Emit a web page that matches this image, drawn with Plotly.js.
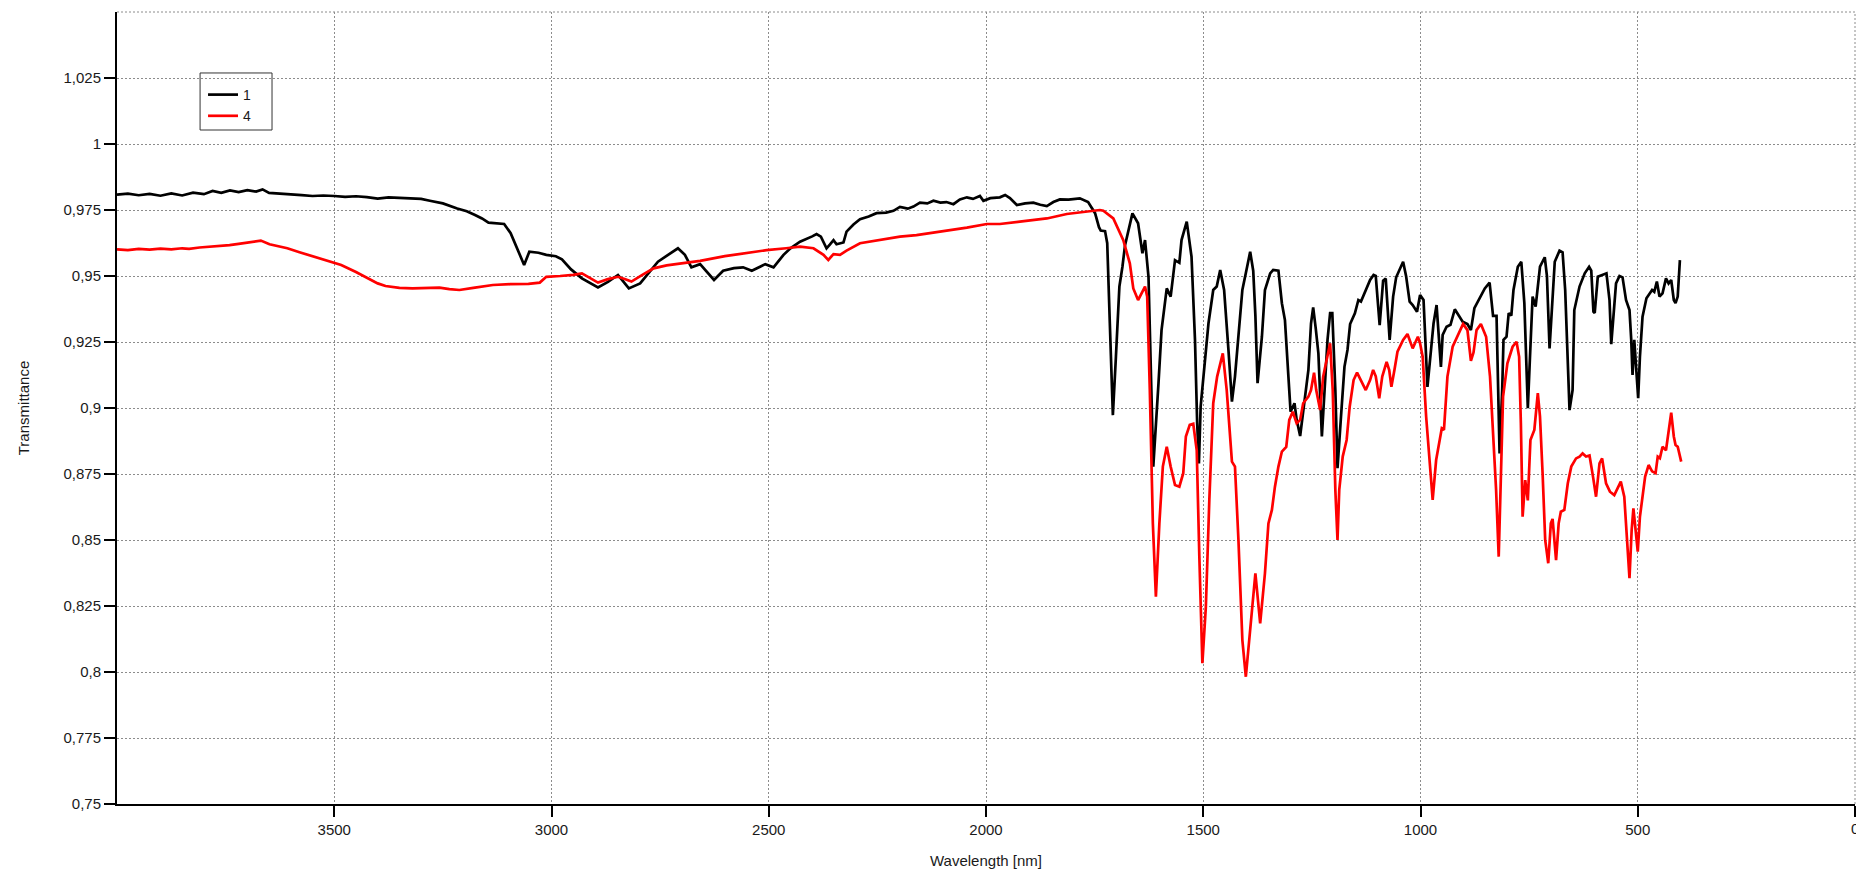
<!DOCTYPE html>
<html>
<head>
<meta charset="utf-8">
<script src="https://cdn.plot.ly/plotly-3.0.1.min.js"></script>
<style>html,body{margin:0;padding:0;background:#fff;}#chart{width:1856px;height:869px;}</style>
</head>
<body>
<div id="chart"></div>
<script>
// Series "1" (black): wavelength [nm] and transmittance
const wl1 = [4000,3975,3950,3925,3900,3875,3850,3825,3800,3780,3760,3740,3720,3700,3680,3665,3650,3630,3600,3575,3550,3525,3500,3475,3450,3425,3400,3375,3350,3320,3300,3280,3250,3217,3195,3176,3160,3145,3125,3109,3094,3078,3063,3051,3030,3012,2990,2976,2955,2930,2910,2893,2870,2847,2835,2822,2796,2775,2755,2730,2709,2693,2678,2658,2640,2626,2605,2580,2559,2539,2520,2508,2489,2466,2450,2428,2400,2390,2380,2367,2359,2351,2344,2328,2321,2305,2290,2270,2252,2230,2213,2198,2180,2167,2152,2135,2121,2105,2091,2075,2060,2044,2030,2014,2006,1990,1968,1956,1945,1929,1910,1891,1875,1860,1845,1830,1810,1784,1765,1749,1740,1736,1726,1721,1715,1708,1701,1693,1686,1680,1663,1650,1640,1634,1626,1615,1603,1596,1584,1575,1565,1555,1550,1538,1527,1519,1514,1510,1506,1496,1488,1477,1469,1461,1452,1442,1434,1427,1419,1410,1399,1392,1385,1380,1375,1365,1358,1346,1339,1327,1319,1312,1304,1299,1290,1285,1277,1265,1258,1252,1247,1241,1235,1227,1222,1214,1208,1203,1196,1191,1183,1175,1168,1162,1151,1143,1137,1128,1116,1108,1103,1094,1086,1080,1071,1063,1056,1040,1033,1025,1018,1008,1001,993,984,970,963,953,949,940,931,921,903,892,884,876,864,852,841,833,825,822,818,812,809,802,797,791,786,776,768,761,757,753,748,742,735,730,725,714,709,703,697,691,680,673,667,661,657,650,646,634,622,612,607,602,599,592,581,572,565,561,556,550,542,535,527,519,515,512,508,504,499,495,489,480,473,467,462,456,450,443,435,429,423,417,413,408,403];
const tr1 = [0.9808,0.9812,0.9806,0.9811,0.9804,0.9813,0.9805,0.9816,0.9810,0.9822,0.9815,0.9824,0.9818,0.9825,0.9820,0.9828,0.9815,0.9812,0.9808,0.9806,0.9803,0.9805,0.9803,0.9800,0.9802,0.9799,0.9793,0.9798,0.9796,0.9795,0.9792,0.9785,0.9775,0.9756,0.9745,0.9731,0.9718,0.9702,0.9698,0.9697,0.9662,0.9598,0.9542,0.9592,0.9588,0.9580,0.9575,0.9563,0.9525,0.9491,0.9472,0.9457,0.9478,0.9504,0.9480,0.9453,0.9472,0.9512,0.9554,0.9582,0.9605,0.9580,0.9533,0.9545,0.9510,0.9485,0.9520,0.9530,0.9533,0.9520,0.9535,0.9545,0.9533,0.9580,0.9605,0.9630,0.9650,0.9659,0.9649,0.9605,0.9620,0.9636,0.9620,0.9627,0.9668,0.9695,0.9715,0.9725,0.9738,0.9740,0.9747,0.9762,0.9755,0.9763,0.9778,0.9775,0.9785,0.9778,0.9780,0.9772,0.9790,0.9798,0.9792,0.9803,0.9785,0.9795,0.9798,0.9807,0.9795,0.9769,0.9775,0.9778,0.9770,0.9765,0.9780,0.9790,0.9789,0.9794,0.9780,0.9738,0.9685,0.9672,0.9670,0.9624,0.9320,0.8973,0.9194,0.9460,0.9535,0.9617,0.9737,0.9700,0.9586,0.9636,0.9497,0.8778,0.9094,0.9295,0.9453,0.9422,0.9560,0.9550,0.9636,0.9706,0.9573,0.9258,0.8942,0.8790,0.9005,0.9194,0.9320,0.9447,0.9460,0.9523,0.9447,0.9220,0.9024,0.9119,0.9283,0.9447,0.9535,0.9592,0.9520,0.9350,0.9094,0.9270,0.9447,0.9510,0.9523,0.9520,0.9397,0.9333,0.9119,0.8986,0.9018,0.8955,0.8894,0.9043,0.9144,0.9320,0.9381,0.9300,0.9207,0.8892,0.9050,0.9258,0.9359,0.9359,0.9068,0.8772,0.8967,0.9156,0.9220,0.9318,0.9359,0.9409,0.9403,0.9440,0.9485,0.9504,0.9500,0.9314,0.9482,0.9490,0.9258,0.9422,0.9495,0.9554,0.9498,0.9403,0.9390,0.9365,0.9428,0.9409,0.9080,0.9320,0.9390,0.9156,0.9277,0.9308,0.9315,0.9374,0.9327,0.9318,0.9295,0.9378,0.9416,0.9453,0.9475,0.9349,0.9349,0.9119,0.8828,0.9068,0.9258,0.9270,0.9359,0.9350,0.9447,0.9535,0.9554,0.9397,0.9194,0.8999,0.9194,0.9422,0.9384,0.9472,0.9535,0.9571,0.9500,0.9226,0.9409,0.9554,0.9596,0.9590,0.9447,0.9119,0.8992,0.9068,0.9371,0.9460,0.9510,0.9535,0.9520,0.9365,0.9360,0.9497,0.9504,0.9510,0.9409,0.9242,0.9346,0.9472,0.9500,0.9495,0.9409,0.9371,0.9258,0.9125,0.9258,0.9169,0.9037,0.9194,0.9346,0.9416,0.9434,0.9447,0.9440,0.9479,0.9422,0.9434,0.9491,0.9472,0.9485,0.9409,0.9397,0.9422,0.9560];

// Series "4" (red)
const wl4 = [4000,3975,3950,3925,3900,3875,3850,3834,3810,3790,3765,3741,3720,3700,3685,3669,3649,3630,3608,3580,3546,3515,3484,3450,3423,3400,3382,3350,3320,3290,3258,3235,3212,3180,3135,3095,3053,3027,3012,2980,2950,2930,2910,2893,2870,2847,2830,2816,2790,2765,2735,2703,2658,2601,2560,2505,2460,2428,2397,2374,2363,2351,2336,2321,2290,2250,2198,2160,2121,2080,2044,1998,1968,1922,1890,1860,1814,1784,1768,1738,1730,1707,1684,1669,1661,1650,1634,1629,1623,1616,1609,1601,1593,1584,1575,1565,1555,1546,1540,1531,1523,1515,1509,1502,1494,1486,1477,1468,1455,1446,1434,1427,1419,1410,1402,1394,1388,1380,1369,1358,1350,1342,1335,1327,1319,1309,1302,1294,1285,1277,1270,1258,1252,1245,1240,1231,1224,1214,1208,1202,1196,1191,1187,1179,1170,1163,1154,1146,1136,1126,1116,1109,1103,1095,1088,1078,1072,1067,1060,1053,1040,1030,1018,1006,1001,995,987,980,972,964,957,951,946,938,926,912,902,892,884,878,871,861,849,840,832,826,820,815,810,800,788,779,773,769,765,759,753,747,738,730,725,719,713,706,700,696,688,682,677,669,661,653,642,634,627,619,611,603,596,588,582,573,564,554,546,539,531,525,519,514,510,505,500,495,489,483,475,467,459,454,449,443,435,429,423,417,413,408,400];
const tr4 = [0.9601,0.9598,0.9603,0.9600,0.9604,0.9601,0.9605,0.9603,0.9608,0.9610,0.9614,0.9617,0.9622,0.9626,0.9630,0.9634,0.9620,0.9613,0.9605,0.9590,0.9573,0.9557,0.9542,0.9515,0.9491,0.9472,0.9462,0.9455,0.9453,0.9455,0.9456,0.9450,0.9447,0.9455,0.9466,0.9469,0.9470,0.9475,0.9497,0.9500,0.9504,0.9510,0.9490,0.9475,0.9488,0.9497,0.9488,0.9479,0.9505,0.9529,0.9540,0.9548,0.9557,0.9575,0.9585,0.9598,0.9605,0.9611,0.9605,0.9580,0.9561,0.9583,0.9580,0.9596,0.9624,0.9635,0.9649,0.9655,0.9664,0.9673,0.9683,0.9697,0.9697,0.9706,0.9712,0.9718,0.9735,0.9740,0.9744,0.9750,0.9747,0.9718,0.9636,0.9548,0.9453,0.9409,0.9460,0.9422,0.9068,0.8563,0.8285,0.8563,0.8778,0.8853,0.8778,0.8708,0.8702,0.8753,0.8892,0.8936,0.8940,0.8840,0.8437,0.8033,0.8247,0.8652,0.9018,0.9119,0.9207,0.9068,0.8797,0.8778,0.8500,0.8121,0.7982,0.8121,0.8250,0.8374,0.8184,0.8374,0.8563,0.8614,0.8702,0.8778,0.8835,0.8853,0.8955,0.8986,0.8942,0.8955,0.9018,0.9043,0.9068,0.9134,0.9068,0.8992,0.9119,0.9194,0.9245,0.9068,0.8690,0.8500,0.8690,0.8816,0.8879,0.9005,0.9106,0.9134,0.9100,0.9068,0.9106,0.9144,0.9120,0.9037,0.9119,0.9175,0.9144,0.9080,0.9144,0.9213,0.9258,0.9280,0.9226,0.9270,0.9245,0.9194,0.8967,0.8816,0.8652,0.8803,0.8866,0.8923,0.8917,0.9119,0.9232,0.9283,0.9318,0.9295,0.9179,0.9210,0.9295,0.9318,0.9270,0.9119,0.8866,0.8690,0.8437,0.8778,0.9043,0.9169,0.9232,0.9251,0.9194,0.8942,0.8588,0.8727,0.8650,0.8879,0.8917,0.9056,0.8967,0.8753,0.8500,0.8412,0.8563,0.8580,0.8424,0.8563,0.8607,0.8614,0.8715,0.8778,0.8809,0.8816,0.8828,0.8816,0.8820,0.8740,0.8664,0.8790,0.8809,0.8715,0.8683,0.8670,0.8696,0.8721,0.8664,0.8500,0.8355,0.8538,0.8620,0.8538,0.8456,0.8588,0.8664,0.8740,0.8784,0.8760,0.8753,0.8816,0.8810,0.8853,0.8840,0.8917,0.8982,0.8892,0.8860,0.8853,0.8797];

// Axis ticks
const xTickVals = [3500,3000,2500,2000,1500,1000,500];
const xTickText = ["3500","3000","2500","2000","1500","1000","500"];
const xEdgeTickVal = 0;      // tick at the right edge, label partly cut off
const xEdgeTickText = "0";
const yTickVals = [0.75,0.775,0.8,0.825,0.85,0.875,0.9,0.925,0.95,0.975,1,1.025];
const yTickText = ["0,75","0,775","0,8","0,825","0,85","0,875","0,9","0,925","0,95","0,975","1","1,025"];
const seriesNames = ["1","4"];

const FONT = "Liberation Sans, Arial, sans-serif";
const TXT = "#1a1a1a";
const gridColor = "#8c8c8c";

const traces = [
  {x: wl1, y: tr1, name: seriesNames[0], type: "scatter", mode: "lines",
   line: {color: "#000000", width: 2.7}},
  {x: wl4, y: tr4, name: seriesNames[1], type: "scatter", mode: "lines",
   line: {color: "#ff0000", width: 2.7}}
];

const layout = {
  width: 1856, height: 869,
  margin: {l: 117, r: 1, t: 12, b: 65, pad: 0},
  paper_bgcolor: "#ffffff", plot_bgcolor: "#ffffff",
  font: {family: FONT, size: 15, color: TXT},
  showlegend: true,
  legend: {x: 0.0495, y: 0.9154, xanchor: "left", yanchor: "top",
           bgcolor: "rgba(0,0,0,0)", borderwidth: 0,
           font: {family: FONT, size: 14, color: TXT}, itemwidth: 30},
  xaxis: {
    range: [4000, 0], tickmode: "array",
    tickvals: xTickVals.concat([xEdgeTickVal]), ticktext: xTickText.concat([xEdgeTickText]),
    ticks: "outside", ticklen: 11, tickwidth: 2, tickcolor: "#000",
    showline: true, linecolor: "#000", linewidth: 2, mirror: false,
    showgrid: true, gridcolor: gridColor, gridwidth: 1, griddash: "2px,2px",
    zeroline: false, automargin: false,
    tickfont: {family: FONT, size: 15, color: TXT},
    title: {text: "Wavelength [nm]", font: {family: FONT, size: 15, color: TXT}, standoff: 19}
  },
  yaxis: {
    range: [0.75, 1.05], tickmode: "array", tickvals: yTickVals, ticktext: yTickText,
    ticks: "outside", ticklen: 11, tickwidth: 2, tickcolor: "#000",
    showline: true, linecolor: "#000", linewidth: 2, mirror: false,
    showgrid: true, gridcolor: gridColor, gridwidth: 1, griddash: "2px,2px",
    zeroline: false, automargin: false,
    tickfont: {family: FONT, size: 15, color: TXT},
    title: {text: "Transmittance", font: {family: FONT, size: 15, color: TXT}, standoff: 30}
  },
  annotations: [
    {x: xEdgeTickVal, xref: "x", y: 0, yref: "paper", text: xEdgeTickText,
     showarrow: false, xanchor: "center", yanchor: "top", yshift: -14,
     font: {family: FONT, size: 15, color: TXT}}
  ],
  shapes: [
    {type: "line", xref: "paper", yref: "paper", x0: 0, x1: 1, y0: 1, y1: 1,
     line: {color: gridColor, width: 1, dash: "2px,2px"}, layer: "below"},
    {type: "line", xref: "paper", yref: "paper", x0: 1, x1: 1, y0: 0, y1: 1,
     line: {color: gridColor, width: 1, dash: "2px,2px"}, layer: "below"},
    {type: "rect", xref: "paper", yref: "paper", x0: 0.0478, x1: 0.0892, y0: 0.851, y1: 0.923,
     line: {color: "#333333", width: 1}, fillcolor: "#ffffff", layer: "below"}
  ]
};

Plotly.newPlot("chart", traces, layout, {displayModeBar: false, staticPlot: true});
</script>
</body>
</html>
